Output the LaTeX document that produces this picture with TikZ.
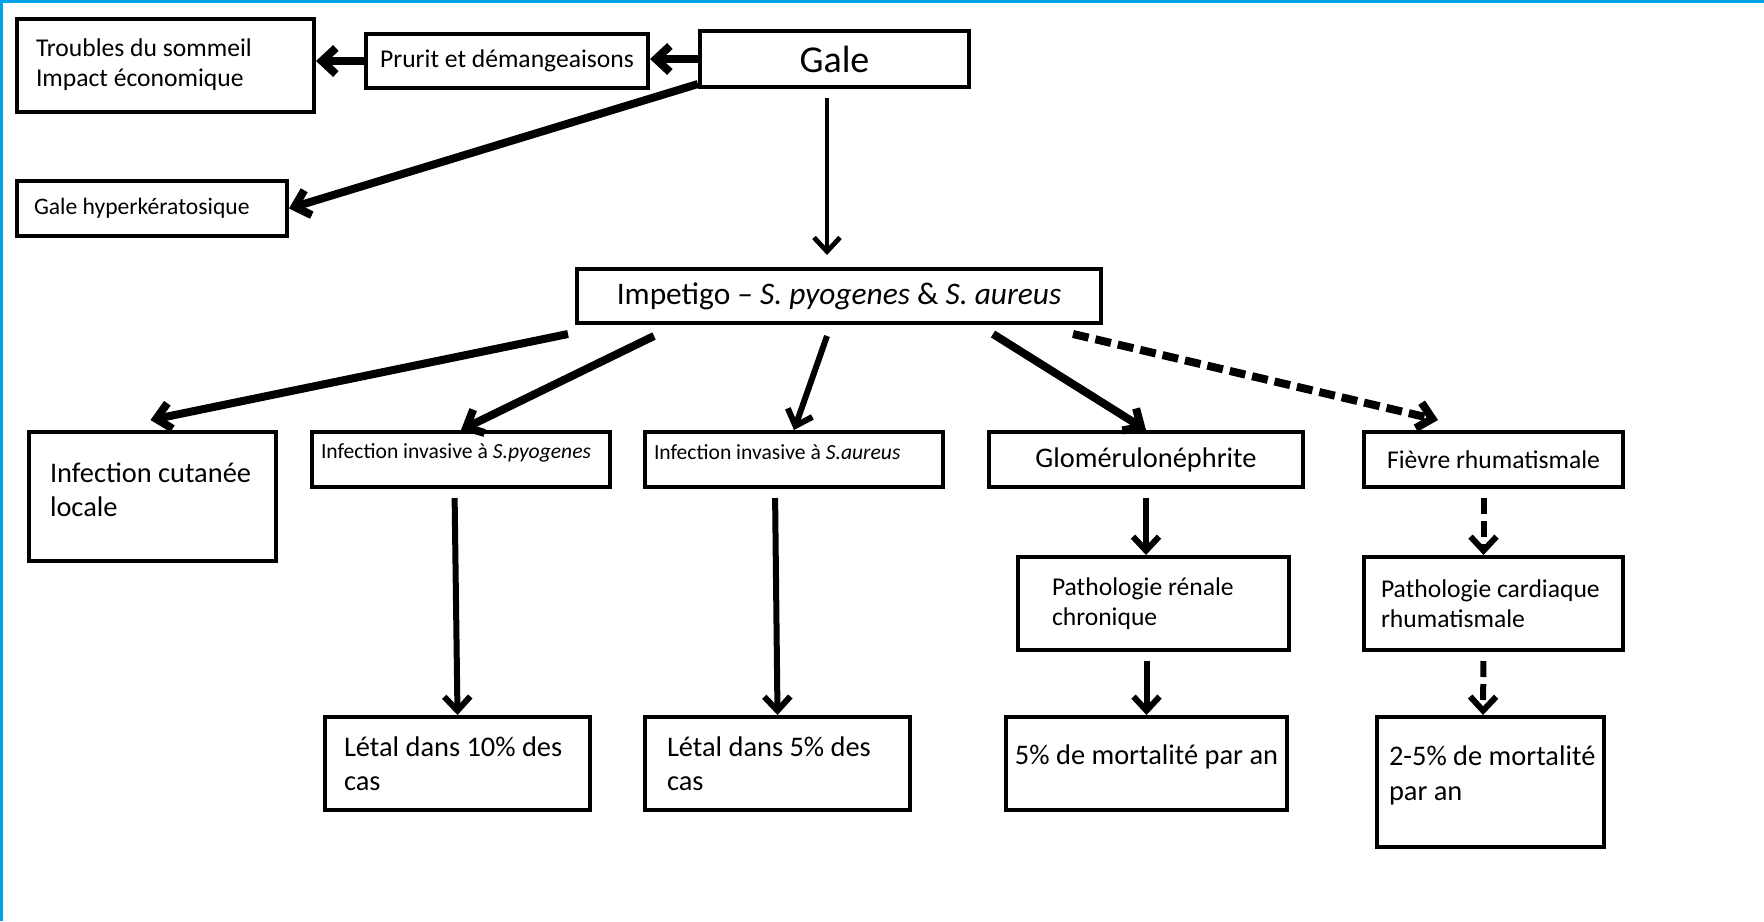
\documentclass[tikz,border=0pt]{standalone}
\usepackage{fontspec}
\setmainfont{Carlito}
\usetikzlibrary{arrows.meta}
\definecolor{bordbleu}{RGB}{0,162,232}
\newcommand{\fGale}{\fontsize{19}{22}\selectfont}
\newcommand{\fImp}{\fontsize{15.7}{19}\selectfont}
\newcommand{\fBig}{\fontsize{14.2}{17}\selectfont}
\newcommand{\fMid}{\fontsize{12.8}{15}\selectfont}
\newcommand{\fHyp}{\fontsize{11.8}{14}\selectfont}
\newcommand{\fSmall}{\fontsize{10.8}{13}\selectfont}
\tikzset{
  box/.style={draw, line width=2pt, inner sep=0pt, align=center},
  lbox/.style={box, align=flush left},
  arr/.style={line width=3pt, -{Straight Barb[length=7pt,width=13pt]}},
  thickarr/.style={arr, line width=4pt},
  thinarr/.style={arr, line width=2.4pt},
  dasharr/.style={thickarr, dash pattern=on 8pt off 3.5pt},
  dasharrv/.style={arr, dash pattern=on 8pt off 3.5pt}
}

\begin{document}
\begin{tikzpicture}[x=0.5pt,y=-0.5pt]
\useasboundingbox (0,0) rectangle (1764,921);
\fill[bordbleu] (0,0) rectangle (1764,3);
\fill[bordbleu] (0,0) rectangle (3,921);

% haut
\node[box, minimum width=134.5pt, minimum height=28pt, font=\fGale] (gale) at (834.5,59) {Gale};
\node[box, minimum width=141pt, minimum height=27pt, font=\fMid] (prurit) at (507,61) {Prurit et démangeaisons};
\node[lbox, minimum width=148.5pt, minimum height=46.5pt, text width=129.5pt, font=\fMid] (troubles) at (165.5,65) {Troubles du sommeil\\Impact économique};
\node[lbox, minimum width=135pt, minimum height=27.5pt, text width=118pt, font=\fHyp] (hyper) at (152,208.5) {Gale hyperkératosique};
\node[box, minimum width=262pt, minimum height=27pt, font=\fImp] (imp) at (839,296) {Impetigo – \textit{S. pyogenes} \& \textit{S. aureus}};

% niveau 2
\node[lbox, minimum width=123.5pt, minimum height=64.5pt, text width=102.5pt, text depth=23.8pt, font=\fBig] (cutanee) at (152.5,496.5) {Infection~cutanée\\locale};
\node[lbox, minimum width=149pt, minimum height=27.5pt, text width=140pt, text depth=8.5pt, font=\fSmall] (pyo) at (461,459.5) {Infection invasive à~\textit{S.pyogenes}};
\node[lbox, minimum width=149pt, minimum height=27.5pt, text width=140pt, text depth=7pt, font=\fSmall] (aur) at (794,459.5) {Infection invasive à~\textit{S.aureus}};
\node[box, minimum width=157pt, minimum height=27.5pt, font=\fBig] (glom) at (1146,459.5) {Glomérulonéphrite};
\node[box, minimum width=129.5pt, minimum height=27.5pt, font=\fMid] (fievre) at (1493.5,459.5) {Fièvre rhumatismale};

% niveau 3
\node[lbox, minimum width=135.5pt, minimum height=46.5pt, text width=101.5pt, font=\fMid] (renal) at (1153.5,603.5) {Pathologie rénale\\chronique};
\node[lbox, minimum width=129.5pt, minimum height=46.5pt, text width=112.5pt, font=\fMid] (card) at (1493.5,603.5) {Pathologie~cardiaque\\rhumatismale};
\node[lbox, minimum width=132.5pt, minimum height=46.5pt, text width=113.5pt, font=\fBig] (letal10) at (457.5,763.5) {Létal~dans~10\%~des\\cas};
\node[lbox, minimum width=132.5pt, minimum height=46.5pt, text width=110.5pt, font=\fBig] (letal5) at (777.5,763.5) {Létal~dans~5\%~des\\cas};
\node[box, minimum width=140.5pt, minimum height=46.5pt, text depth=8.5pt, font=\fBig] (mort5) at (1146.5,763.5) {5\% de mortalité par an};
\node[lbox, minimum width=113.5pt, minimum height=65pt, text width=101.5pt, text depth=26pt, font=\fontsize{14.2}{17.5}\selectfont] (mort25) at (1490.5,782) {\mbox{2-5\%~de~mortalité}\\par an};

% fleches
\draw[thickarr] (gale.west) -- (gale.west -| prurit.east);
\draw[thickarr] (prurit.west) -- (prurit.west -| troubles.east);
\draw[thickarr] ([yshift=2.5pt]gale.south west) -- (hyper.east);
\draw[thinarr, shorten <=4.5pt, shorten >=6pt] ([xshift=-3.75pt]gale.south) -- ([xshift=-6pt]imp.north);
\draw[thickarr] ([xshift=-3.5pt,yshift=-4.5pt]imp.south west) -- ([xshift=-1pt,yshift=5pt]cutanee.north);
\draw[thickarr] ([xshift=39.5pt,yshift=-5.5pt]imp.south west) -- (pyo.north);
\draw[arr] ([xshift=-6pt,yshift=-5.5pt]imp.south) -- (aur.north);
\draw[thickarr] ([xshift=77pt,yshift=-4.5pt]imp.south) -- (glom.north);
\draw[dasharr] ([xshift=-15pt,yshift=-4.5pt]imp.south east) -- ([xshift=38pt,yshift=5pt]fievre.north west); % pointilles
\draw[arr, shorten <=4.5pt] ([xshift=-3.25pt]pyo.south) -- (letal10.north);
\draw[arr, shorten <=4.5pt] ([xshift=-9.5pt]aur.south) -- (letal5.north);
\draw[arr, shorten <=4.5pt] (glom.south) -- (glom.south |- renal.north);
\draw[arr, shorten <=4.5pt] (renal.south -| mort5.north) -- (mort5.north);
\draw[dasharrv, shorten <=4.5pt] ([xshift=-5pt]fievre.south) -- ([xshift=-5pt]card.north);
\draw[dasharrv, shorten <=4.5pt] ([xshift=-5pt]card.south) -- ([xshift=-3.75pt]mort25.north);
\end{tikzpicture}
\end{document}
